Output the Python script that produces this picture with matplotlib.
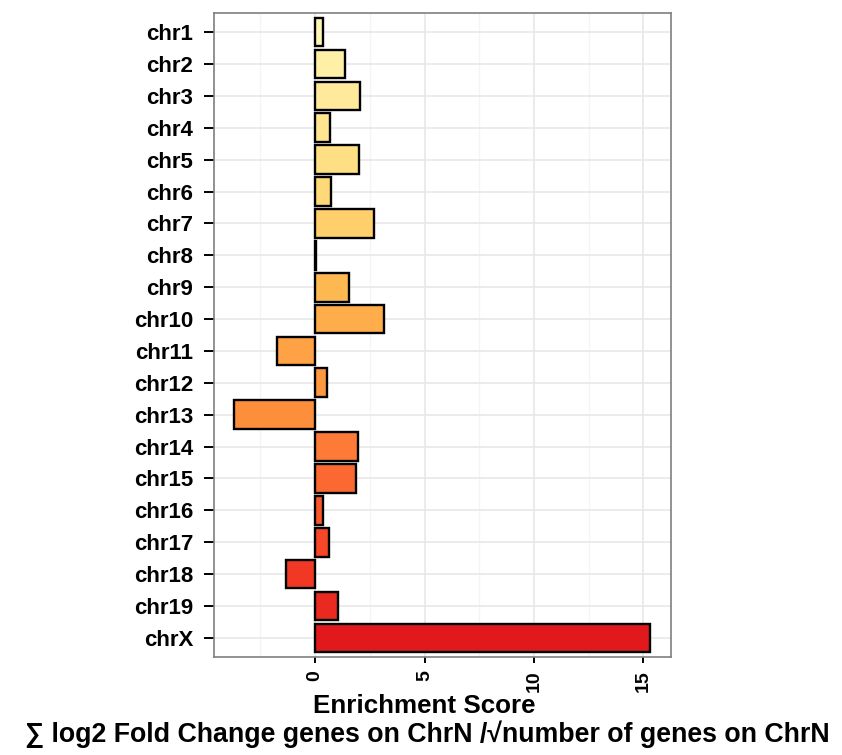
import numpy as np
import matplotlib
matplotlib.use("Agg")
import matplotlib.pyplot as plt

# data
chroms = ["chr1", "chr2", "chr3", "chr4", "chr5", "chr6", "chr7", "chr8", "chr9", "chr10",
          "chr11", "chr12", "chr13", "chr14", "chr15", "chr16", "chr17", "chr18", "chr19", "chrX"]
scores = [0.35, 1.35, 2.03, 0.67, 1.99, 0.71, 2.69, 0.06, 1.53, 3.13,
          -1.76, 0.56, -3.69, 1.94, 1.85, 0.38, 0.64, -1.32, 1.03, 15.31]
x_ticks = [0, 5, 10, 15]
x_minor = [-2.5, 2.5, 7.5, 12.5]

plt.rcParams['font.family'] = ['Liberation Sans', 'DejaVu Sans']
plt.rcParams['font.weight'] = 'bold'

W, H = 842, 755
fig = plt.figure(figsize=(W / 100, H / 100), dpi=100)
# panel box in pixels: left 213.5, right 671, top 13, bottom 657
ax = fig.add_axes([213.5 / W, 1 - 657 / H, (671 - 213.5) / W, (657 - 13) / H])

cols = plt.cm.YlOrRd(np.linspace(0.07, 0.75, len(chroms)))
pos = np.arange(len(chroms))
ax.barh(pos, scores, height=0.9, color=cols, edgecolor='black', linewidth=1.7, zorder=3)

lo, hi = min(scores), max(scores)
pad = 0.05 * (hi - lo)
ax.set_xlim(lo - pad, hi + pad)
ax.set_ylim(len(chroms) - 0.4, -0.6)

ax.set_yticks(pos)
ax.set_yticklabels(chroms, fontsize=16, fontweight='bold')
ax.set_xticks(x_ticks)
ax.set_xticklabels([str(t) for t in x_ticks], rotation=90, fontsize=14, fontweight='bold')
ax.set_xticks(x_minor, minor=True)

ax.tick_params(axis='y', length=7.5, width=1.4, pad=7, color='black')
ax.tick_params(axis='x', which='major', length=4.5, width=1.4, pad=5, color='black')
ax.tick_params(axis='x', which='minor', length=0)

ax.grid(which='major', color='#E6E6E6', linewidth=1.1)
ax.grid(which='minor', axis='x', color='#F4F4F4', linewidth=0.9)
ax.set_axisbelow(True)

for s in ax.spines.values():
    s.set_color('#7F7F7F')
    s.set_linewidth(1.2)

fig.text(424 / W, 1 - 712.7 / H, "Enrichment Score", ha='center', va='baseline',
         fontsize=18.7, fontweight='bold')
fig.text(427 / W, 1 - 741.7 / H,
         "\u2211 log2 Fold Change genes on ChrN /\u221anumber of genes on ChrN",
         ha='center', va='baseline', fontsize=19.3, fontweight='bold')

fig.savefig("out.png", dpi=100)
